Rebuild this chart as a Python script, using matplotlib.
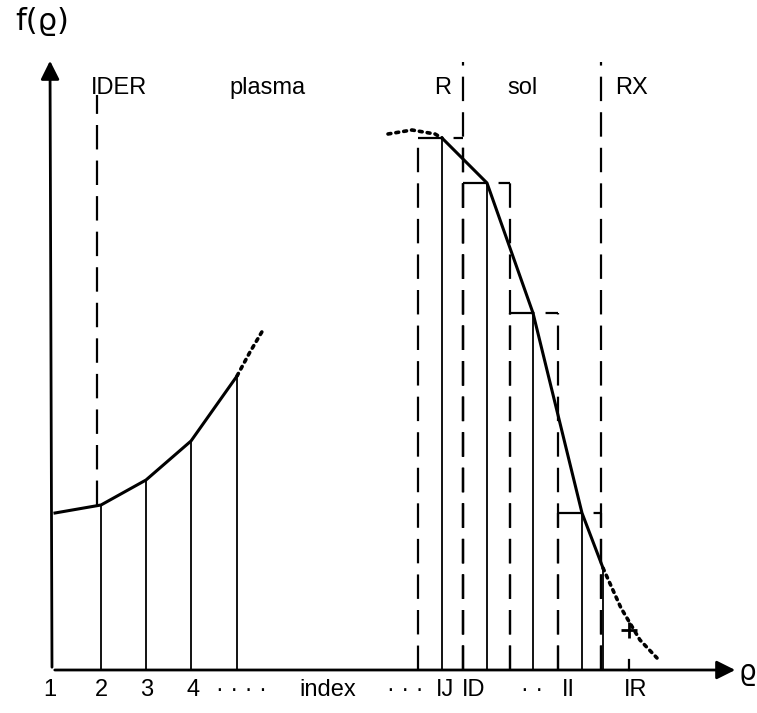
import matplotlib
matplotlib.use('Agg')
from matplotlib import pyplot as plt

plt.rcParams['font.family'] = ['Liberation Sans', 'DejaVu Sans']

# plasma side: grid points 1..5 and f values (height above axis)
plasma_x = [55, 101, 146, 191, 237]
plasma_f = [157, 165, 190, 229, 294]
plasma_dot_x = [237, 250, 263]
plasma_dot_f = [294, 318, 340]

# sol side: grid points IJ..II and f values
sol_x = [442, 487, 533, 582, 603]
sol_f = [532, 487, 357, 157, 102]
sol_dot_top_x = [388, 412, 435, 442]
sol_dot_top_f = [536, 540, 536, 532]
sol_dot_end_x = [603, 621, 640, 657]
sol_dot_end_f = [102, 62, 30, 12]

# cell boundaries (dashed), cells around sol points
cell_edges = [418, 463, 510, 558, 601]
cell_f = [532, 487, 357, 157]

# region boundaries: DER, R|sol, RX
der_x, r_x, rx_x = 97, 463, 601
top_f = 608

region_labels = ['IDER', 'plasma', 'R', 'sol', 'RX']
region_pos = [91, 229, 434, 507, 615]

bottom_labels = ['1', '2', '3', '4', '· · · ·', 'index', '· · ·', 'IJ', 'ID', '· ·', 'II', 'IR']
bottom_pos = [50, 101, 147, 193, 241, 328, 405, 445, 474, 532, 568, 636]
ir_x = 629

fig = plt.figure(figsize=(7.57, 7.13), dpi=100)
ax = fig.add_axes([0, 0, 1, 1])
ax.set_xlim(0, 757)
ax.set_ylim(-43, 670)
ax.axis('off')

k = 'black'
dash = dict(color=k, lw=1.6, dashes=(11, 5))
dots = dict(color=k, lw=2.6, ls=(0, (0.8, 1.4)), dash_capstyle='round')

# axes with arrows
ax.annotate('', xy=(738, 0), xytext=(52, 0),
            arrowprops=dict(arrowstyle='-|>', lw=2, color=k, mutation_scale=28))
ax.annotate('', xy=(50, 612), xytext=(52, 0),
            arrowprops=dict(arrowstyle='-|>', lw=2, color=k, mutation_scale=28))
ax.text(42, 648, 'f(ϱ)', fontsize=22, ha='center', va='center', family='DejaVu Sans')
ax.text(747, -2, 'ϱ', fontsize=20, ha='center', va='center', family='DejaVu Sans')

# plasma curve and verticals
ax.plot(plasma_x, plasma_f, color=k, lw=2.2)
ax.vlines(plasma_x[1:], 0, plasma_f[1:], color=k, lw=1.3)
ax.plot(plasma_dot_x, plasma_dot_f, **dots)

# sol curve and verticals
ax.plot(sol_x, sol_f, color=k, lw=2.2)
ax.vlines(sol_x, 0, sol_f, color=k, lw=1.3)
ax.plot(sol_dot_top_x, sol_dot_top_f, **dots)
ax.plot(sol_dot_end_x, sol_dot_end_f, **dots)
ax.plot([ir_x], [40], marker='+', ms=11, mew=2, color=k)
ax.plot([ir_x, ir_x], [0, 10], color=k, lw=1.6)

# dashed cells
for i, f in enumerate(cell_f):
    ax.plot([cell_edges[i], cell_edges[i + 1]], [f, f], **dash)
    ax.plot([cell_edges[i], cell_edges[i]], [0, f], **dash)
    ax.plot([cell_edges[i + 1], cell_edges[i + 1]], [0, f], **dash)

# region boundaries
ax.plot([der_x, der_x], [plasma_f[1], 575], **dash)
ax.plot([r_x, r_x], [0, top_f], **dash)
ax.plot([rx_x, rx_x], [0, top_f], **dash)

for s, x in zip(region_labels, region_pos):
    ax.text(x, 582, s, fontsize=17, ha='left', va='center')
for s, x in zip(bottom_labels, bottom_pos):
    ax.text(x, -20, s, fontsize=17, ha='center', va='center')

plt.savefig('out.png', dpi=100)
